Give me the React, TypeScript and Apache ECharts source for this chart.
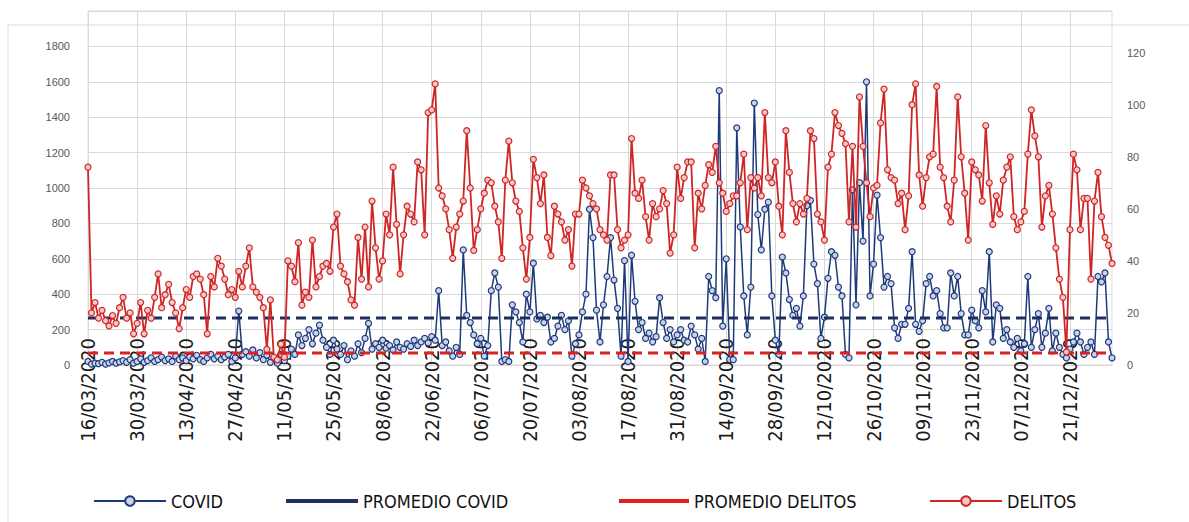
import React, { useEffect, useRef } from "react";
import * as echarts from "echarts";

// ---- data ----
const START_DATE = "2020-03-16";
const N_DAYS = 293;

const COVID: number[] = [
  20, 5, 10, 8, 15, 5, 12, 20, 10, 18, 25, 15, 30, 10, 20, 35, 15, 25, 40, 20,
  30, 45, 25, 35, 20, 50, 30, 40, 25, 45, 35, 55, 30, 20, 40, 60, 35, 50, 30, 45,
  60, 20, 40, 305, 60, 75, 50, 85, 40, 70, 30, 55, 15, 40, 10, 60, 25, 50, 90, 60,
  170, 110, 150, 200, 120, 180, 225, 140, 100, 60, 140, 90, 60, 110, 30, 80, 50, 120, 70, 150,
  235, 90, 120, 100, 140, 95, 110, 85, 130, 100, 90, 120, 105, 140, 110, 130, 150, 125, 160, 140,
  420, 110, 130, 80, 50, 100, 60, 650, 280, 240, 170, 120, 150, 50, 110, 420, 520, 440, 20, 30,
  20, 340, 300, 240, 130, 400, 300, 575, 260, 280, 240, 270, 130, 150, 220, 280, 200, 250, 50, 120,
  170, 300, 400, 880, 720, 310, 130, 340, 500, 720, 480, 320, 50, 590, 20, 620, 360, 200, 240, 150,
  180, 130, 160, 380, 240, 150, 200, 130, 170, 200, 140, 130, 220, 170, 90, 150, 20, 500, 420, 380,
  1550, 220, 600, 30, 30, 1340, 780, 390, 170, 440, 1480, 850, 650, 880, 920, 390, 140, 60, 610, 520,
  370, 280, 320, 220, 390, 900, 930, 570, 460, 150, 270, 490, 640, 620, 440, 390, 60, 40, 990, 340,
  1030, 700, 1600, 390, 570, 960, 720, 440, 500, 460, 210, 150, 230, 230, 320, 640, 230, 190, 250, 460,
  500, 390, 420, 290, 210, 210, 520, 390, 500, 290, 170, 170, 310, 250, 210, 420, 300, 640, 130, 340,
  320, 150, 200, 130, 100, 150, 80, 120, 500, 100, 200, 290, 100, 180, 320, 80, 180, 100, 60, 40,
  90, 130, 180, 130, 60, 100, 130, 60, 500, 470, 520, 130, 40,
];

const DELITOS: number[] = [
  76, 20, 24, 18, 21, 17, 15, 19, 16, 22, 26, 18, 20, 12, 16, 24, 12, 21, 18, 26,
  35, 22, 27, 31, 24, 20, 14, 22, 29, 26, 34, 35, 33, 27, 12, 34, 30, 41, 38, 33,
  27, 29, 26, 36, 30, 38, 45, 30, 28, 26, 22, 6, 25, 3, 2, 8, 3, 40, 38, 32,
  47, 23, 28, 26, 48, 30, 34, 38, 39, 36, 53, 58, 38, 35, 32, 25, 23, 49, 33, 53,
  30, 63, 45, 33, 40, 58, 50, 76, 54, 35, 50, 61, 58, 55, 78, 75, 50, 97, 98, 108,
  68, 65, 60, 52, 41, 53, 58, 63, 90, 68, 44, 52, 60, 66, 71, 70, 61, 55, 41, 71,
  86, 70, 63, 59, 45, 33, 49, 79, 72, 62, 73, 49, 42, 61, 58, 55, 48, 52, 38, 58,
  58, 71, 68, 65, 62, 60, 52, 50, 48, 73, 73, 52, 45, 48, 50, 87, 66, 64, 71, 57,
  48, 62, 57, 60, 67, 62, 43, 50, 76, 64, 72, 78, 78, 45, 66, 60, 69, 77, 74, 84,
  70, 66, 59, 62, 65, 65, 70, 81, 52, 72, 68, 72, 65, 97, 72, 70, 78, 61, 50, 90,
  74, 62, 55, 62, 58, 64, 90, 87, 58, 55, 48, 76, 81, 97, 92, 89, 85, 55, 84, 53,
  103, 84, 70, 57, 68, 69, 93, 106, 75, 72, 71, 62, 66, 52, 65, 100, 108, 73, 61, 72,
  80, 81, 107, 76, 72, 61, 55, 71, 103, 80, 66, 48, 78, 75, 73, 63, 92, 70, 54, 65,
  58, 71, 76, 80, 57, 52, 55, 59, 81, 98, 88, 80, 53, 65, 69, 58, 45, 33, 26, 5,
  52, 81, 75, 52, 64, 64, 33, 63, 74, 57, 49, 46, 39,
];

const PROMEDIO_COVID_VALUE = 265;
const PROMEDIO_DELITOS_VALUE = 68;

const LEFT_TICKS = { min: 0, max: 2000, interval: 200 };
const RIGHT_TICKS = { min: 0, max: 136, interval: 20 };

function buildDates(start: string, n: number): string[] {
  const out: string[] = [];
  const [y, m, d] = start.split("-").map(Number);
  const base = Date.UTC(y, m - 1, d);
  for (let i = 0; i < n; i++) {
    const dt = new Date(base + i * 86400000);
    const dd = String(dt.getUTCDate()).padStart(2, "0");
    const mm = String(dt.getUTCMonth() + 1).padStart(2, "0");
    out.push(`${dd}/${mm}/${dt.getUTCFullYear()}`);
  }
  return out;
}

const CATEGORIES = buildDates(START_DATE, N_DAYS);
const PROMEDIO_COVID = CATEGORIES.map(() => PROMEDIO_COVID_VALUE);
const PROMEDIO_DELITOS = CATEGORIES.map(() => PROMEDIO_DELITOS_VALUE);

const NARROW = '"Liberation Sans Narrow", "Arial Narrow", "DejaVu Sans Condensed", sans-serif';
const BLUE = "#1f3a7a";
const RED = "#d02525";

export default function App() {
  const ref = useRef<HTMLDivElement>(null);
  useEffect(() => {
    if (!ref.current) return;
    const chart = echarts.init(ref.current, undefined, { renderer: "svg" });
    const legendText = { fontFamily: NARROW, fontSize: 18, color: "#111" };
    const plain = (v: number) => String(v);
    chart.setOption({
      animation: false,
      backgroundColor: "#fff",
      graphic: [
        {
          type: "rect",
          shape: { x: 8, y: 25, width: 1200, height: 600 },
          style: { fill: "none", stroke: "#d9d9d9", lineWidth: 1 },
          silent: true,
          z: -10,
        },
      ],
      grid: {
        left: 88,
        right: 77,
        top: 11,
        bottom: 157,
        show: true,
        borderColor: "#d9d9d9",
        borderWidth: 1,
        backgroundColor: "transparent",
      },
      legend: [
        { left: 88, top: 487, itemWidth: 72, itemHeight: 12, data: ["COVID"], textStyle: legendText },
        { left: 281, top: 487, itemWidth: 72, itemHeight: 4, data: [{ name: "PROMEDIO COVID", icon: "rect" }], textStyle: legendText },
        { left: 614, top: 487, itemWidth: 70, itemHeight: 4, data: [{ name: "PROMEDIO DELITOS", icon: "rect" }], textStyle: legendText },
        { left: 924, top: 487, itemWidth: 72, itemHeight: 12, data: ["DELITOS"], textStyle: legendText },
      ],
      xAxis: {
        type: "category",
        data: CATEGORIES,
        boundaryGap: false,
        axisLine: { show: true, lineStyle: { color: "#d9d9d9" } },
        axisTick: { show: false },
        axisLabel: {
          interval: 13,
          rotate: 90,
          margin: -27,
          fontFamily: NARROW,
          fontSize: 20,
          color: "#1a1a1a",
        },
        splitLine: { show: true, interval: 13, lineStyle: { color: "#d9d9d9", width: 1 } },
      },
      yAxis: [
        {
          type: "value",
          min: LEFT_TICKS.min,
          max: LEFT_TICKS.max,
          interval: LEFT_TICKS.interval,
          axisLine: { show: false },
          axisTick: { show: false },
          axisLabel: { formatter: plain, showMaxLabel: false, margin: 18, fontSize: 11, color: "#595959", fontFamily: "Liberation Sans, Arial, sans-serif" },
          splitLine: { show: true, lineStyle: { color: "#d9d9d9", width: 1 } },
        },
        {
          type: "value",
          min: RIGHT_TICKS.min,
          max: RIGHT_TICKS.max,
          interval: RIGHT_TICKS.interval,
          position: "right",
          axisLine: { show: false },
          axisTick: { show: false },
          axisLabel: { formatter: plain, showMaxLabel: false, margin: 15, fontSize: 11, color: "#595959", fontFamily: "Liberation Sans, Arial, sans-serif" },
          splitLine: { show: false },
        },
      ],
      series: [
        {
          name: "COVID",
          type: "line",
          yAxisIndex: 0,
          data: COVID,
          symbol: "circle",
          symbolSize: 6,
          showAllSymbol: true,
          itemStyle: { color: "#c9d3ec", borderColor: BLUE, borderWidth: 1.2 },
          lineStyle: { color: BLUE, width: 1.5 },
          z: 2,
        },
        {
          name: "PROMEDIO COVID",
          type: "line",
          yAxisIndex: 0,
          data: PROMEDIO_COVID,
          symbol: "none",
          itemStyle: { color: "#1c2f5e" },
          lineStyle: { color: "#1c2f5e", width: 3, type: [10, 6] },
          z: 3,
        },
        {
          name: "PROMEDIO DELITOS",
          type: "line",
          yAxisIndex: 0,
          data: PROMEDIO_DELITOS,
          symbol: "none",
          itemStyle: { color: "#e01f1f" },
          lineStyle: { color: "#e01f1f", width: 3, type: [10, 6] },
          z: 3,
        },
        {
          name: "DELITOS",
          type: "line",
          yAxisIndex: 1,
          data: DELITOS,
          symbol: "circle",
          symbolSize: 6,
          showAllSymbol: true,
          itemStyle: { color: "#f6c9c9", borderColor: RED, borderWidth: 1.2 },
          lineStyle: { color: RED, width: 1.8 },
          z: 4,
        },
      ],
    });
    return () => chart.dispose();
  }, []);
  return (
    <div
      ref={ref}
      style={{ position: "fixed", left: 0, top: 0, width: 1189, height: 522, background: "#fff" }}
    />
  );
}
